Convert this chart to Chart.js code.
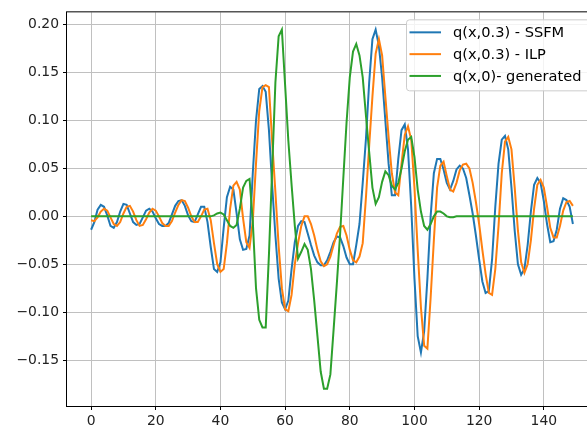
<!DOCTYPE html>
<html>
<head>
<meta charset="utf-8">
<script src="https://cdn.jsdelivr.net/npm/chart.js@4.4.0/dist/chart.umd.min.js"></script>
<style>
  html, body { margin: 0; padding: 0; overflow: hidden; background: #fff; }
  canvas { display: block; }
</style>
</head>
<body>
<canvas id="waveChart" width="600" height="428"></canvas>
<script>
// series values, one per x step (x = 0 .. 149)
const ssfm = [
  -0.014, -0.006, 0.007, 0.012, 0.010, 0.001, -0.010, -0.012, -0.006, 0.005,
  0.013, 0.012, 0.003, -0.006, -0.009, -0.008, -0.001, 0.006, 0.008, 0.005,
  -0.002, -0.008, -0.010, -0.010, -0.007, 0.002, 0.011, 0.016, 0.017, 0.011,
  0.001, -0.005, -0.006, 0.002, 0.010, 0.010, -0.006, -0.032, -0.055, -0.058,
  -0.048, -0.012, 0.020, 0.031, 0.028, 0.003, -0.024, -0.035, -0.034, -0.020,
  0.045, 0.100, 0.133, 0.136, 0.130, 0.090, 0.032, -0.020, -0.065, -0.090,
  -0.097, -0.088, -0.055, -0.027, -0.010, -0.005, -0.006, -0.018, -0.030, -0.041,
  -0.048, -0.051, -0.051, -0.046, -0.037, -0.027, -0.021, -0.022, -0.031, -0.043,
  -0.050, -0.050, -0.030, -0.008, 0.035, 0.081, 0.140, 0.185, 0.195, 0.178,
  0.145, 0.100, 0.055, 0.022, 0.022, 0.060, 0.090, 0.096, 0.070, 0.010,
  -0.065, -0.125, -0.142, -0.120, -0.065, 0.000, 0.045, 0.060, 0.060, 0.049,
  0.035, 0.028, 0.037, 0.049, 0.053, 0.050, 0.040, 0.022, 0.003, -0.020,
  -0.045, -0.068, -0.080, -0.078, -0.045, 0.010, 0.055, 0.080, 0.084, 0.070,
  0.030, -0.015, -0.050, -0.061, -0.055, -0.030, 0.005, 0.033, 0.040, 0.035,
  0.016, -0.008, -0.027, -0.026, -0.014, 0.008, 0.019, 0.017, 0.010, -0.008
];

const ilp = [
  -0.004, -0.005, -0.001, 0.005, 0.008, 0.006, -0.001, -0.008, -0.010, -0.006,
  0.003, 0.010, 0.011, 0.005, -0.004, -0.010, -0.009, -0.003, 0.004, 0.008,
  0.006, 0.000, -0.007, -0.010, -0.010, -0.005, 0.004, 0.012, 0.017, 0.016,
  0.009, 0.000, -0.006, -0.006, 0.000, 0.007, 0.008, -0.004, -0.028, -0.050,
  -0.058, -0.055, -0.028, 0.008, 0.032, 0.036, 0.028, -0.002, -0.027, -0.033,
  -0.005, 0.055, 0.110, 0.135, 0.137, 0.135, 0.078, 0.025, -0.031, -0.075,
  -0.097, -0.099, -0.082, -0.050, -0.028, -0.010, 0.000, 0.000, -0.008, -0.020,
  -0.035, -0.047, -0.052, -0.050, -0.042, -0.030, -0.018, -0.011, -0.010, -0.020,
  -0.035, -0.046, -0.048, -0.042, -0.028, 0.020, 0.074, 0.125, 0.170, 0.185,
  0.168, 0.125, 0.083, 0.045, 0.025, 0.022, 0.055, 0.085, 0.094, 0.080,
  0.030, -0.035, -0.095, -0.135, -0.138, -0.085, -0.025, 0.030, 0.053, 0.057,
  0.042, 0.028, 0.026, 0.035, 0.048, 0.054, 0.055, 0.050, 0.035, 0.015,
  -0.008, -0.035, -0.060, -0.080, -0.082, -0.055, -0.010, 0.045, 0.078, 0.083,
  0.070, 0.030, -0.015, -0.048, -0.059, -0.050, -0.025, 0.008, 0.033, 0.038,
  0.030, 0.010, -0.012, -0.022, -0.022, -0.010, 0.006, 0.015, 0.016, 0.011
];

const generated = [
  0, 0, 0, 0, 0, 0, 0, 0, 0, 0,
  0, 0, 0, 0, 0, 0, 0, 0, 0, 0,
  0, 0, 0, 0, 0, 0, 0, 0, 0, 0,
  0, 0, 0, 0, 0, 0, 0, 0.000, 0.001, 0.003,
  0.004, 0.002, -0.004, -0.010, -0.012, -0.009, 0.008, 0.030, 0.037, 0.039,
  -0.005, -0.075, -0.108, -0.116, -0.116, -0.040, 0.050, 0.140, 0.188, 0.195,
  0.137, 0.079, 0.033, -0.010, -0.044, -0.037, -0.029, -0.035, -0.055, -0.088,
  -0.125, -0.162, -0.180, -0.180, -0.165, -0.118, -0.070, -0.019, 0.040, 0.098,
  0.145, 0.172, 0.180, 0.168, 0.145, 0.105, 0.067, 0.030, 0.013, 0.020,
  0.036, 0.047, 0.043, 0.032, 0.028, 0.035, 0.050, 0.068, 0.080, 0.083,
  0.062, 0.028, 0.005, -0.010, -0.014, -0.008, 0.000, 0.005, 0.005, 0.003,
  0.000, -0.001, -0.001, 0.000, 0, 0, 0, 0, 0, 0,
  0, 0, 0, 0, 0, 0, 0, 0, 0, 0,
  0, 0, 0, 0, 0, 0, 0, 0, 0, 0,
  0, 0, 0, 0, 0, 0, 0, 0, 0, 0
];

const seriesLabels = ['q(x,0.3) - SSFM', 'q(x,0.3) - ILP', 'q(x,0)- generated'];
const xTicks = [0, 20, 40, 60, 80, 100, 120, 140];
const yTicks = [-0.15, -0.10, -0.05, 0.00, 0.05, 0.10, 0.15, 0.20];

const FONT = 'DejaVu Sans';
const FS = 13.9;
const LEGEND_FS = 14.6;

function toPoints(values) {
  return values.map((y, i) => ({ x: i, y: y }));
}

// frame on all four sides + legend inside the axes, upper right
const frameAndLegend = {
  id: 'frameAndLegend',
  afterDraw(chart) {
    const ctx = chart.ctx;
    const area = chart.chartArea;
    ctx.save();
    ctx.strokeStyle = '#000';
    ctx.lineWidth = 1;
    ctx.strokeRect(area.left - 0.5, area.top - 0.5, area.right - area.left + 1, area.bottom - area.top + 1);

    ctx.font = LEGEND_FS + 'px "' + FONT + '"';
    const sets = chart.data.datasets;
    const left = area.right - 191;
    const top = area.top + 7;
    const boxW = 184;
    const boxH = 71;

    ctx.fillStyle = 'rgba(255,255,255,0.8)';
    ctx.strokeStyle = '#cccccc';
    ctx.beginPath();
    ctx.roundRect(left + 0.5, top + 0.5, boxW, boxH, 3);
    ctx.fill();
    ctx.stroke();

    sets.forEach((ds, i) => {
      const cy = top + 13 + i * 21.8;
      ctx.strokeStyle = ds.borderColor;
      ctx.lineWidth = 2;
      ctx.beginPath();
      ctx.moveTo(left + 3.5, cy);
      ctx.lineTo(left + 35, cy);
      ctx.stroke();
      ctx.fillStyle = '#000';
      ctx.textBaseline = 'middle';
      ctx.textAlign = 'left';
      ctx.fillText(ds.label, left + 47, cy + 1);
    });
    ctx.restore();
  }
};

new Chart(document.getElementById('waveChart'), {
  type: 'line',
  data: {
    datasets: [
      { label: seriesLabels[0], data: toPoints(ssfm), borderColor: '#1f77b4', order: 3 },
      { label: seriesLabels[1], data: toPoints(ilp), borderColor: '#ff7f0e', order: 2 },
      { label: seriesLabels[2], data: toPoints(generated), borderColor: '#2ca02c', order: 1 }
    ]
  },
  options: {
    responsive: false,
    devicePixelRatio: 1,
    animation: false,
    datasets: {
      line: { borderWidth: 2, pointRadius: 0, tension: 0, fill: false }
    },
    layout: { padding: { top: 12, right: 3, left: 0, bottom: 0 } },
    plugins: {
      legend: { display: false },
      tooltip: { enabled: false }
    },
    scales: {
      x: {
        type: 'linear',
        min: -7.45,
        max: 156.45,
        afterBuildTicks: (axis) => { axis.ticks = xTicks.map(v => ({ value: v })); },
        afterFit: (axis) => { axis.height = 22; },
        border: { display: false },
        grid: { color: '#c0c0c0', tickColor: '#000', tickLength: 4, lineWidth: 1 },
        ticks: {
          color: '#222',
          padding: 3,
          maxRotation: 0,
          font: { family: FONT, size: FS },
          callback: (v) => String(v)
        }
      },
      y: {
        min: -0.198,
        max: 0.213,
        afterBuildTicks: (axis) => { axis.ticks = yTicks.map(v => ({ value: v })); },
        afterFit: (axis) => { axis.width = 67; },
        border: { display: false },
        grid: { color: '#c0c0c0', tickColor: '#000', tickLength: 4, lineWidth: 1 },
        ticks: {
          color: '#222',
          padding: 4,
          font: { family: FONT, size: FS },
          callback: (v) => (v < 0 ? '\u2212' : '') + Math.abs(v).toFixed(2)
        }
      }
    }
  },
  plugins: [frameAndLegend]
});
</script>
</body>
</html>
